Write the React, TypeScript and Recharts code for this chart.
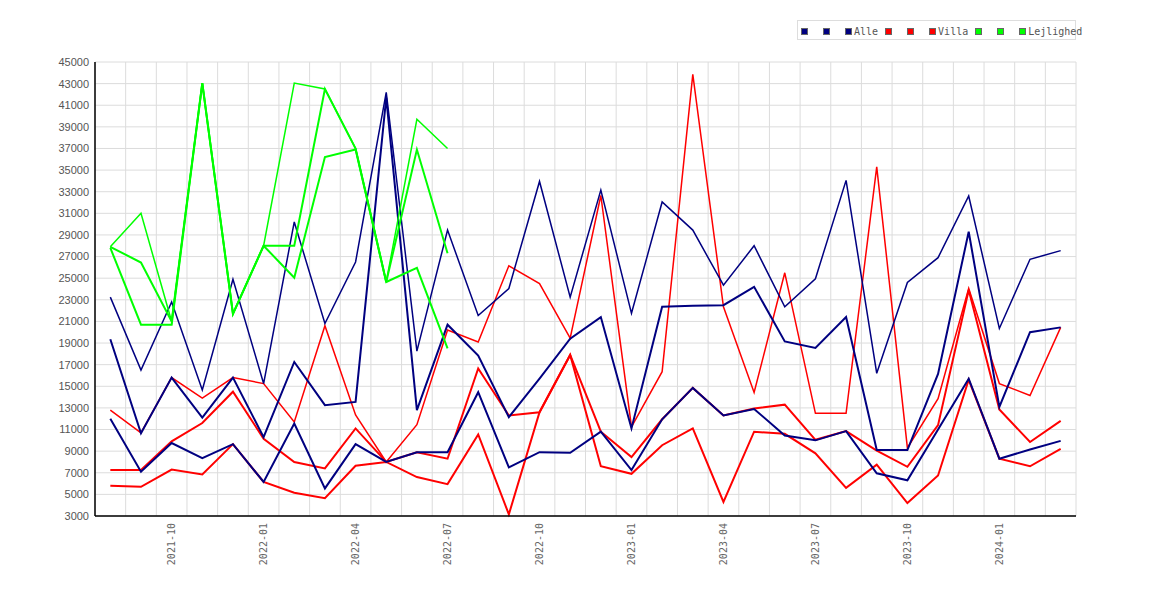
import React from "react";
import { LineChart, Line, XAxis, YAxis, CartesianGrid } from "recharts";

const months = [
  "2021-08", "2021-09", "2021-10", "2021-11", "2021-12",
  "2022-01", "2022-02", "2022-03", "2022-04", "2022-05", "2022-06",
  "2022-07", "2022-08", "2022-09", "2022-10", "2022-11", "2022-12",
  "2023-01", "2023-02", "2023-03", "2023-04", "2023-05", "2023-06",
  "2023-07", "2023-08", "2023-09", "2023-10", "2023-11", "2023-12",
  "2024-01", "2024-02", "2024-03",
];

const alle1 = [23250, 16500, 22800, 14650, 24900, 15250, 30200, 20800, 26500, 42200, 18250, 29450, 21550, 24050, 33950, 23250, 33150, 21750, 32050, 29450, 24350, 28000, 22350, 24950, 34050, 16200, 24600, 26900, 32600, 20350, 26750, 27550];
const alle2 = [19350, 10650, 15800, 12100, 15800, 10300, 17250, 13250, 13550, 41700, 12800, 20700, 17850, 12150, 15700, 19400, 21400, 11100, 22350, 22450, 22500, 24200, 19150, 18550, 21400, 9100, 9100, 16150, 29300, 13100, 20000, 20450];
const alle3 = [12000, 7100, 9750, 8350, 9650, 6150, 11550, 5550, 9650, 8000, 8900, 8900, 14450, 7500, 8900, 8850, 10800, 7250, 11950, 14850, 12300, 12900, 10450, 10000, 10850, 6950, 6300, 11000, 15700, 8300, 9150, 9950];

const villa1 = [12800, 10700, 15800, 13900, 15800, 15250, 11700, 20600, 12350, 8000, 11450, 20200, 19100, 26150, 24500, 19450, 32650, 11250, 16350, 43850, 22350, 14420, 25500, 12500, 12500, 35300, 9300, 13850, 24050, 15250, 14150, 20450];
const villa2 = [7250, 7250, 9900, 11600, 14500, 10150, 8000, 7400, 11100, 8000, 8900, 8300, 16650, 12300, 12600, 17900, 10800, 8450, 11950, 14850, 12300, 12950, 13300, 10050, 10850, 9050, 7550, 11400, 23900, 12850, 9850, 11800];
const villa3 = [5800, 5700, 7300, 6850, 9650, 6150, 5150, 4650, 7650, 8000, 6600, 5950, 10550, 3150, 12600, 17900, 7600, 6900, 9550, 11100, 4300, 10800, 10600, 8800, 5600, 7750, 4200, 6750, 15600, 8300, 7600, 9200];

// lejlighed only has data for the first year
const lej1 = [27900, 31000, 21000, 43050, 21700, 28000, 43050, 42500, 37000, 24650, 39700, 37000];
const lej2 = [27900, 26450, 21000, 43050, 21700, 28000, 28000, 42500, 37000, 24650, 36900, 27300];
const lej3 = [27800, 20700, 20700, 43050, 21700, 28000, 25050, 36200, 36900, 24650, 25950, 18500];

const yTicks = [3000, 5000, 7000, 9000, 11000, 13000, 15000, 17000, 19000, 21000, 23000, 25000, 27000, 29000, 31000, 33000, 35000, 37000, 39000, 41000, 43000, 45000];

const NAVY = "#000080";
const RED = "#ff0000";
const GREEN = "#00ff00";

const rows = months.map((m, i) => ({
  idx: i,
  month: m,
  a1: alle1[i],
  a2: alle2[i],
  a3: alle3[i],
  v1: villa1[i],
  v2: villa2[i],
  v3: villa3[i],
  l1: i < lej1.length ? lej1[i] : null,
  l2: i < lej2.length ? lej2[i] : null,
  l3: i < lej3.length ? lej3[i] : null,
}));

// label only the first month of each quarter
const quarterTicks = months
  .map((m, i) => (["01", "04", "07", "10"].includes(m.slice(5)) ? i : -1))
  .filter((i) => i >= 0);

// grid lines sit between the months
const boundaries = [...months.map((_, i) => i - 0.5), months.length - 0.5];

const XTick = (props: any) => {
  const { x, y, payload } = props;
  return (
    <text
      transform={`translate(${x},${y}) rotate(-90)`}
      textAnchor="end"
      dy="0.35em"
      fontSize={10}
      fontFamily="DejaVu Sans Mono, monospace"
      fill="#666"
    >
      {months[payload.value]}
    </text>
  );
};

const gridX = (args: any) => {
  const s = args?.xAxis?.scale;
  if (typeof s === "function") return boundaries.map((b) => s(b));
  const o = args.offset;
  return boundaries.map((b) => o.left + ((b + 0.5) / months.length) * o.width);
};

const legendGroups = [
  { name: "Alle", color: NAVY },
  { name: "Villa", color: RED },
  { name: "Lejlighed", color: GREEN },
];

function Swatch({ color }: { color: string }) {
  return (
    <span
      style={{
        display: "inline-block",
        width: 7,
        height: 7,
        boxSizing: "border-box",
        background: color,
        border: "1px solid #666",
      }}
    />
  );
}

export default function App() {
  const series = [
    { key: "v1", color: RED, w: 1.5 },
    { key: "v2", color: RED, w: 2 },
    { key: "v3", color: RED, w: 2 },
    { key: "a1", color: NAVY, w: 1.5 },
    { key: "a2", color: NAVY, w: 2 },
    { key: "a3", color: NAVY, w: 2 },
    { key: "l1", color: GREEN, w: 1.5 },
    { key: "l2", color: GREEN, w: 2 },
    { key: "l3", color: GREEN, w: 2 },
  ];

  return (
    <div style={{ position: "absolute", left: 0, top: 0, width: 1170, height: 600, background: "#fff" }}>
      <LineChart width={1170} height={600} data={rows} margin={{ top: 62, right: 94, bottom: 24, left: 35 }}>
        <CartesianGrid stroke="#dcdcdc" verticalCoordinatesGenerator={gridX} />
        <XAxis
          dataKey="idx"
          type="number"
          domain={[-0.5, months.length - 0.5]}
          ticks={quarterTicks}
          interval={0}
          tick={<XTick />}
          tickLine={false}
          tickSize={5}
          tickMargin={2}
          height={60}
          axisLine={{ stroke: "#000", strokeWidth: 1.5 }}
        />
        <YAxis
          type="number"
          domain={[3000, 45000]}
          ticks={yTicks}
          interval={0}
          width={60}
          tickLine={false}
          tickSize={4}
          tickMargin={2}
          tick={{ fontSize: 11, fill: "#555", fontFamily: "Liberation Sans, Arial, sans-serif" }}
          axisLine={{ stroke: "#000", strokeWidth: 1.5 }}
        />
        {series.map((s) => (
          <Line
            key={s.key}
            dataKey={s.key}
            type="linear"
            stroke={s.color}
            strokeWidth={s.w}
            dot={false}
            activeDot={false}
            isAnimationActive={false}
          />
        ))}
      </LineChart>

      <div
        style={{
          position: "absolute",
          left: 797,
          top: 20,
          width: 279,
          height: 20,
          boxSizing: "border-box",
          border: "1px solid #ddd",
        }}
      />
      <div
        style={{
          position: "absolute",
          left: 801,
          top: 24,
          height: 14,
          display: "flex",
          alignItems: "center",
          fontFamily: "DejaVu Sans Mono, monospace",
          fontSize: 10,
          color: "#555",
          whiteSpace: "nowrap",
        }}
      >
        {legendGroups.map((g) => (
          <React.Fragment key={g.name}>
            <Swatch color={g.color} />
            <span style={{ width: 15 }} />
            <Swatch color={g.color} />
            <span style={{ width: 15 }} />
            <Swatch color={g.color} />
            <span style={{ marginLeft: 2, marginRight: 7 }}>{g.name}</span>
          </React.Fragment>
        ))}
      </div>
    </div>
  );
}
